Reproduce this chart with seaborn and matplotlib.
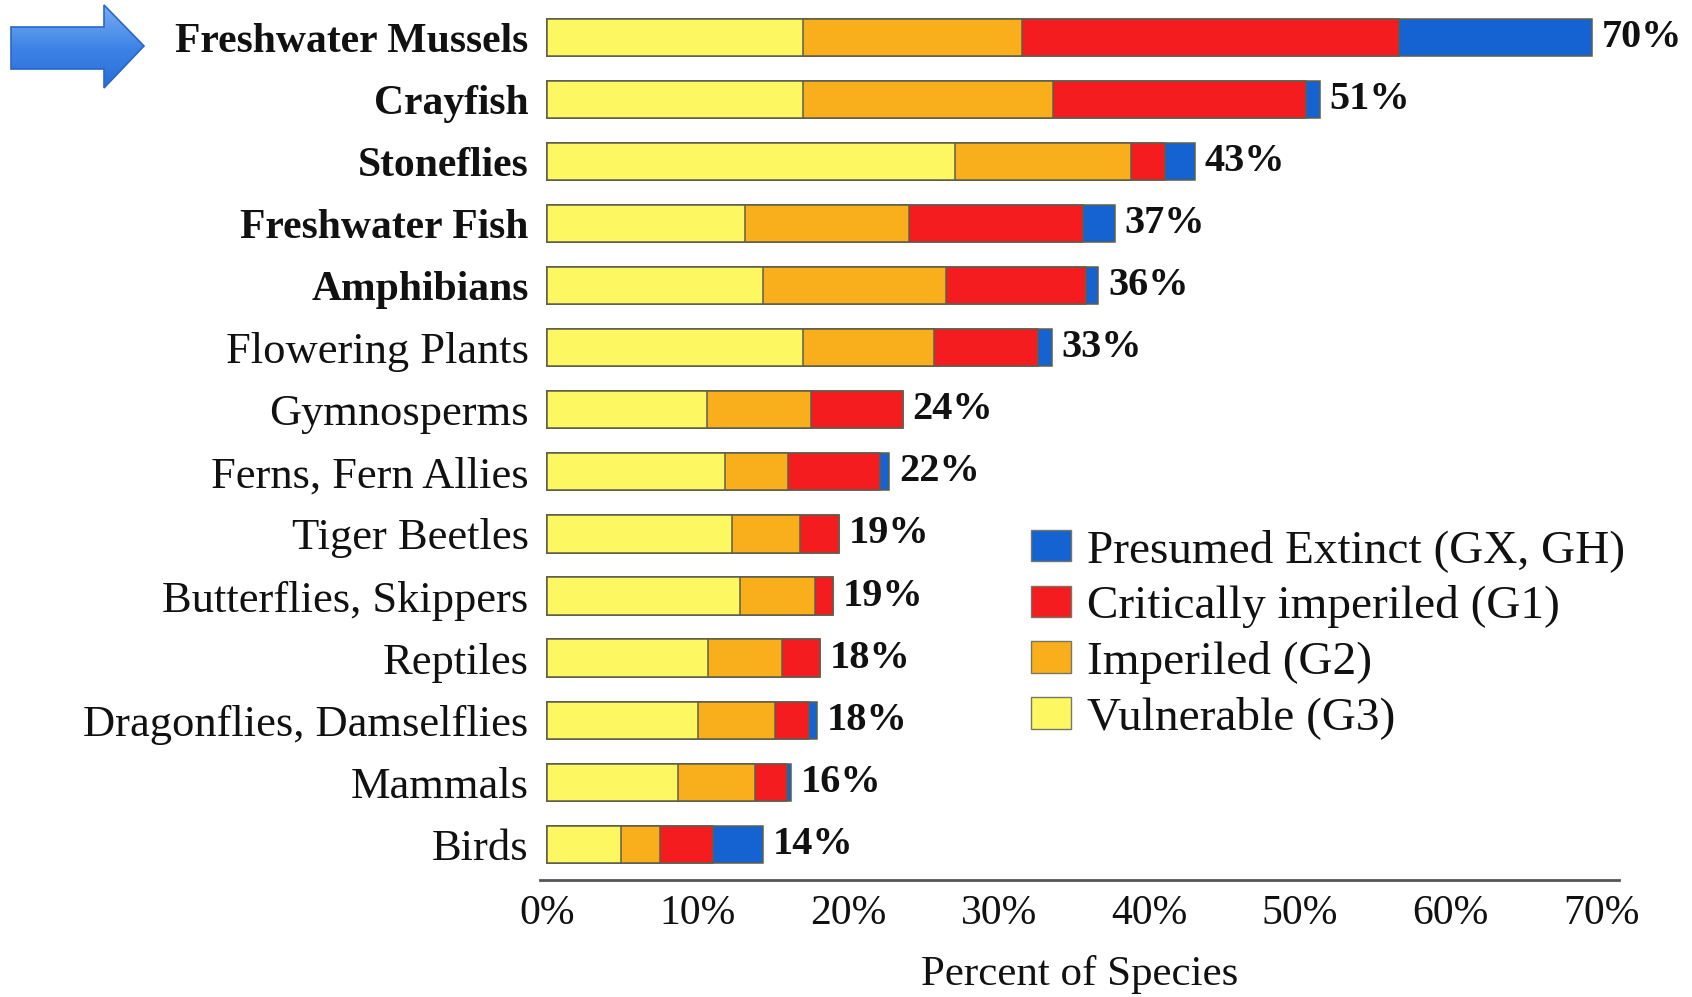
import numpy as np
import pandas as pd
import matplotlib
matplotlib.use("Agg")
import matplotlib.pyplot as plt
from matplotlib.patches import Patch, Polygon
import seaborn as sns

categories = ["Freshwater Mussels", "Crayfish", "Stoneflies", "Freshwater Fish",
              "Amphibians", "Flowering Plants", "Gymnosperms", "Ferns, Fern Allies",
              "Tiger Beetles", "Butterflies, Skippers", "Reptiles",
              "Dragonflies, Damselflies", "Mammals", "Birds"]
vulnerable = [17.0, 17.0, 27.1, 13.1, 14.3, 17.0, 10.6, 11.8, 12.3, 12.8, 10.7, 10.0, 8.7, 4.9]
imperiled = [14.5, 16.6, 11.7, 10.9, 12.2, 8.7, 6.9, 4.2, 4.5, 5.0, 4.9, 5.1, 5.1, 2.6]
critical = [25.1, 16.8, 2.2, 11.6, 9.3, 6.9, 6.1, 6.1, 2.6, 1.2, 2.5, 2.3, 2.1, 3.5]
extinct = [12.8, 0.9, 2.0, 2.1, 0.8, 0.9, 0.0, 0.6, 0.0, 0.0, 0.0, 0.5, 0.3, 3.3]
total_labels = ["70%", "51%", "43%", "37%", "36%", "33%", "24%", "22%",
                "19%", "19%", "18%", "18%", "16%", "14%"]
bold_rows = 5
tick_values = [0, 10, 20, 30, 40, 50, 60, 70]
tick_labels = ["0%", "10%", "20%", "30%", "40%", "50%", "60%", "70%"]
series_names = ["Presumed Extinct (GX, GH)", "Critically imperiled (G1)",
                "Imperiled (G2)", "Vulnerable (G3)"]
series_colors = ["#1562D2", "#F41C1E", "#F8AF1B", "#FDF862"]

sns.set_theme(style="white")
plt.rcParams["font.family"] = ["Liberation Serif", "DejaVu Serif"]

df = pd.DataFrame({"category": categories})
df["c1"] = np.array(vulnerable)
df["c2"] = df["c1"] + np.array(imperiled)
df["c3"] = df["c2"] + np.array(critical)
df["c4"] = df["c3"] + np.array(extinct)

fig = plt.figure(figsize=(16.92, 9.97), dpi=100)
ax = fig.add_axes([0.319, 0.117, 0.638, 0.883])

for col, color in zip(["c4", "c3", "c2", "c1"], series_colors):
    sns.barplot(data=df, x=col, y="category", orient="h", color=color,
                saturation=1, width=0.6, edgecolor="#5f5f4c", linewidth=1.1,
                errorbar=None, ax=ax)

ax.bar_label(ax.containers[0], labels=total_labels, padding=7,
             fontsize=29, fontweight="bold", color="#111111")

ax.set_xlim(-0.5, 71.2)
ax.set_ylim(13.58, -0.6)
ax.set_xticks(tick_values)
ax.set_xticklabels(tick_labels, fontsize=30, color="#111111")
ax.tick_params(axis="x", length=0, pad=10)
ax.tick_params(axis="y", length=0, pad=8)
ax.set_yticks(range(len(categories)))
ax.set_yticklabels(categories, fontsize=32, color="#111111")
for i, t in enumerate(ax.get_yticklabels()):
    if i < bold_rows:
        t.set_fontweight("bold")
        t.set_fontsize(30)
ax.set_ylabel("")
ax.set_xlabel("Percent of Species", fontsize=31, color="#111111", labelpad=16)
for s in ["left", "top", "right"]:
    ax.spines[s].set_visible(False)
ax.spines["bottom"].set_color("#555555")
ax.spines["bottom"].set_linewidth(2)
ax.grid(False)

handles = [Patch(facecolor=c, edgecolor="#777766", linewidth=1) for c in series_colors]
fig.legend(handles, series_names, loc="upper left", bbox_to_anchor=(0.598, 0.488),
           frameon=False, fontsize=34, handlelength=0.85, handleheight=0.65,
           handletextpad=0.35, labelspacing=0.27, borderaxespad=0,
           labelcolor="#111111")

# decorative pointer arrow (top-left)
aax = fig.add_axes([0, 1 - 100 / 997, 160 / 1692, 100 / 997])
aax.set_xlim(0, 160)
aax.set_ylim(100, 0)
aax.axis("off")
pts = [(11, 27), (104, 27), (104, 5), (144, 46), (104, 88), (104, 69), (11, 69)]
poly = Polygon(pts, closed=True, facecolor="none", edgecolor="#2A67C8", linewidth=1.2)
aax.add_patch(poly)
grad = np.linspace(0, 1, 100).reshape(-1, 1)
cmap = matplotlib.colors.LinearSegmentedColormap.from_list("g", ["#7DB2F2", "#3C82E6", "#2268D0"])
im = aax.imshow(grad, extent=(0, 160, 100, 0), cmap=cmap, aspect="auto", zorder=0)
im.set_clip_path(poly)

fig.savefig("out.png", dpi=100, facecolor="white")
